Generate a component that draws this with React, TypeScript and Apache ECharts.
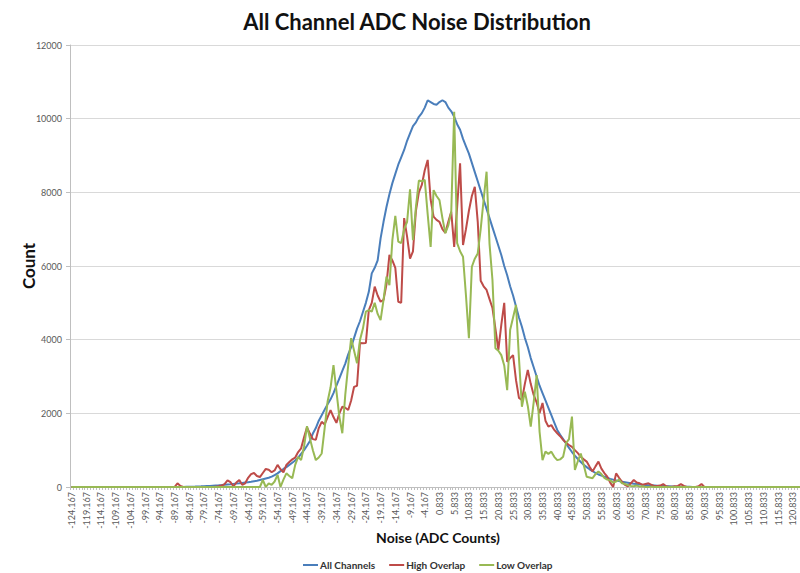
import React, { useEffect, useRef } from "react";
import * as echarts from "echarts";

// Bin centres: -124.167 ... 124.833 in steps of 1 ADC count
const BIN_FIRST = -124.167;
const BIN_COUNT = 250;
const categories: string[] = Array.from({ length: BIN_COUNT }, (_, i) => (BIN_FIRST + i).toFixed(3));

// Read values start at bin -90.167 (index 34); all bins outside the read range are 0
const READ_START_INDEX = 34;

const allChannels = [
  0, 0, 0, 0, 2,
  5, 8, 10, 12, 15, 18, 22, 26, 30, 35,
  40, 45, 52, 60, 68, 75, 85, 95, 100, 110,
  120, 130, 140, 155, 170, 190, 210, 230, 250, 280,
  320, 370, 430, 490, 540, 600, 660, 720, 800, 900,
  1000, 1120, 1250, 1450, 1600, 1800, 1950, 2100, 2250, 2380,
  2550, 2750, 2950, 3150, 3350, 3600, 3800, 4050, 4300, 4500,
  4750, 5000, 5300, 5800, 5950, 6150, 6750, 7200, 7600, 7950,
  8250, 8500, 8750, 8950, 9150, 9400, 9600, 9800, 9900, 10050,
  10150, 10300, 10500, 10450, 10400, 10380, 10450, 10500, 10450, 10300,
  10200, 10050, 9850, 9700, 9450, 9250, 9050, 8800, 8550, 8300,
  8050, 7800, 7550, 7300, 7050, 6800, 6550, 6300, 6000, 5750,
  5450, 5200, 4900, 4600, 4350, 4050, 3800, 3500, 3250, 3000,
  2750, 2550, 2350, 2150, 1950, 1750, 1550, 1420, 1300, 1180,
  1060, 950, 850, 760, 680, 600, 540, 480, 430, 380,
  340, 310, 280, 250, 220, 200, 180, 160, 145, 130,
  115, 100, 90, 80, 70, 60, 55, 50, 45, 40,
  35, 30, 25, 20, 18, 15, 12, 10, 8, 6,
  5, 4, 3, 2, 1, 0,
];

const highOverlap = [
  0, 0, 100, 30, 0,
  0, 0, 0, 0, 0, 0, 0, 0, 0, 0,
  10, 20, 40, 80, 180, 130, 20, 120, 190, 60,
  100, 250, 350, 380, 300, 270, 380, 490, 470, 400,
  450, 600, 480, 400, 600, 680, 750, 800, 950, 1050,
  1350, 1620, 1450, 1300, 1280, 1600, 1770, 1700, 1900, 2090,
  1900, 1740, 2000, 2180, 2150, 2090, 2350, 2720, 2750, 3910,
  3900, 3910, 4800, 5000, 5440, 5200, 5030, 5080, 5500, 6300,
  6150, 5950, 5030, 5000, 7300, 6800, 6200, 6400, 7500, 8000,
  8200, 8600, 8880, 7800, 7340, 7250, 7200, 7000, 6900, 7200,
  7470, 6520, 7600, 8790, 6570, 7000, 7500, 7900, 8150, 7200,
  5600, 5450, 5350, 5100, 4860, 4300, 3720, 4400, 5000, 3400,
  3500, 3580, 2900, 2420, 2360, 2800, 3180, 2800, 2500, 2300,
  2000, 2280, 1800, 1640, 1680, 1550, 1460, 1380, 1280, 1200,
  1140, 1090, 1000, 920, 820, 750, 690, 550, 420, 560,
  690, 500, 380, 280, 120, 0, 370, 250, 140, 60,
  20, 100, 190, 120, 100, 60, 80, 100, 60, 20,
  30, 40, 80, 20, 0, 10, 20, 30, 80, 30,
  0, 0, 0, 0, 20, 80,
];

const lowOverlap = [
  0, 0, 0, 0, 0,
  0, 0, 0, 0, 0, 0, 0, 0, 0, 0,
  0, 0, 0, 0, 0, 0, 0, 0, 0, 0,
  0, 0, 0, 0, 0, 0, 190, 0, 100, 60,
  150, 330, 0, 200, 370, 300, 240, 600, 820, 730,
  1100, 1650, 1320, 1000, 730, 800, 910, 1600, 2320, 2700,
  3310, 2600, 1900, 1460, 2500, 3300, 4040, 3700, 3360, 3990,
  4300, 4760, 4800, 4760, 5000, 4700, 4530, 5080, 5710, 5480,
  6700, 7360, 6660, 6620, 7000, 7200, 8080, 6700, 7600, 8320,
  8300, 8340, 7400, 6520, 8060, 7900, 7790, 7300, 6890, 7100,
  7470, 10190, 6620, 6400, 6250, 5200, 4040, 5980, 6200, 6340,
  7000, 7800, 8560, 6600, 5620, 3770, 3700, 3580, 3300, 2630,
  4260, 4600, 4940, 3500, 2180, 2590, 2200, 1640, 2300, 3040,
  1500, 730, 960, 900, 960, 820, 730, 750, 820, 1190,
  1300, 1910, 460, 700, 910, 600, 280, 260, 240, 350,
  420, 350, 250, 200, 180, 120, 150, 200, 100, 80,
  50, 30, 20, 40, 10, 20, 0, 0, 10, 0,
  0, 0, 0, 0, 0, 0, 0, 0, 0, 0,
  0, 0, 0, 0, 0, 0,
];

const yTicks = { min: 0, max: 12000, interval: 2000 };

function toFullSeries(read: number[]): number[] {
  const out: number[] = new Array(BIN_COUNT).fill(0);
  read.forEach((v, k) => {
    const idx = READ_START_INDEX + k;
    if (idx < BIN_COUNT) out[idx] = v;
  });
  return out;
}

const FONT = "Lato, 'Open Sans', sans-serif";

export default function App() {
  const ref = useRef<HTMLDivElement>(null);
  useEffect(() => {
    if (!ref.current) return;
    const chart = echarts.init(ref.current, undefined, { renderer: "svg" });
    const mk = (name: string, data: number[], color: string) => ({
      name,
      type: "line",
      data: toFullSeries(data),
      showSymbol: false,
      symbol: "none",
      lineStyle: { width: 2, color },
      itemStyle: { color },
    });
    chart.setOption({
      animation: false,
      backgroundColor: "#ffffff",
      textStyle: { fontFamily: FONT },
      graphic: [
        {
          type: "text",
          x: 417,
          y: 21,
          style: {
            text: "All Channel ADC Noise Distribution",
            fill: "#111",
            font: `bold 22px ${FONT}`,
            textAlign: "center",
            textVerticalAlign: "middle",
          },
        },
      ],
      legend: {
        left: 298,
        top: 555,
        icon: "rect",
        itemWidth: 15,
        itemHeight: 2,
        itemGap: 14,
        textStyle: { fontSize: 10, fontWeight: "bold", color: "#333", fontFamily: FONT, padding: [0, 0, 0, -3] },
        data: ["All Channels", "High Overlap", "Low Overlap"],
      },
      grid: {
        left: 70,
        right: -6,
        top: 45,
        bottom: 86,
        containLabel: false,
        outerBoundsMode: "none",
      },
      xAxis: {
        type: "category",
        data: categories,
        boundaryGap: true,
        name: "Noise (ADC Counts)",
        nameLocation: "middle",
        nameGap: 43,
        nameMoveOverlap: false,
        nameTextStyle: { fontSize: 14, fontWeight: "bold", color: "#111", fontFamily: FONT },
        axisLine: { lineStyle: { color: "#bfbfbf", width: 1 } },
        axisTick: { show: true, interval: 0, length: 3, lineStyle: { color: "#bfbfbf" } },
        axisLabel: {
          interval: 4,
          rotate: 90,
          fontSize: 9,
          color: "#595959",
          margin: 5,
          fontFamily: FONT,
        },
        splitLine: { show: false },
      },
      yAxis: {
        type: "value",
        min: yTicks.min,
        max: yTicks.max,
        interval: yTicks.interval,
        name: "Count",
        nameLocation: "middle",
        nameGap: 33,
        nameMoveOverlap: false,
        nameRotate: 90,
        nameTextStyle: { fontSize: 17, fontWeight: "bold", color: "#111", fontFamily: FONT },
        axisLine: { show: true, lineStyle: { color: "#bfbfbf", width: 1 } },
        axisTick: { show: true, length: 4, lineStyle: { color: "#bfbfbf" } },
        axisLabel: {
          fontSize: 9,
          color: "#595959",
          margin: 8,
          fontFamily: FONT,
          formatter: (v: number) => String(v),
        },
        splitLine: { show: true, lineStyle: { color: "#d9d9d9", width: 1 } },
      },
      series: [
        mk("All Channels", allChannels, "#4a7ebb"),
        mk("High Overlap", highOverlap, "#be4b48"),
        mk("Low Overlap", lowOverlap, "#98b954"),
      ],
    });
    return () => chart.dispose();
  }, []);
  return <div ref={ref} style={{ width: 800, height: 573, position: "absolute", left: 0, top: 0 }} />;
}
